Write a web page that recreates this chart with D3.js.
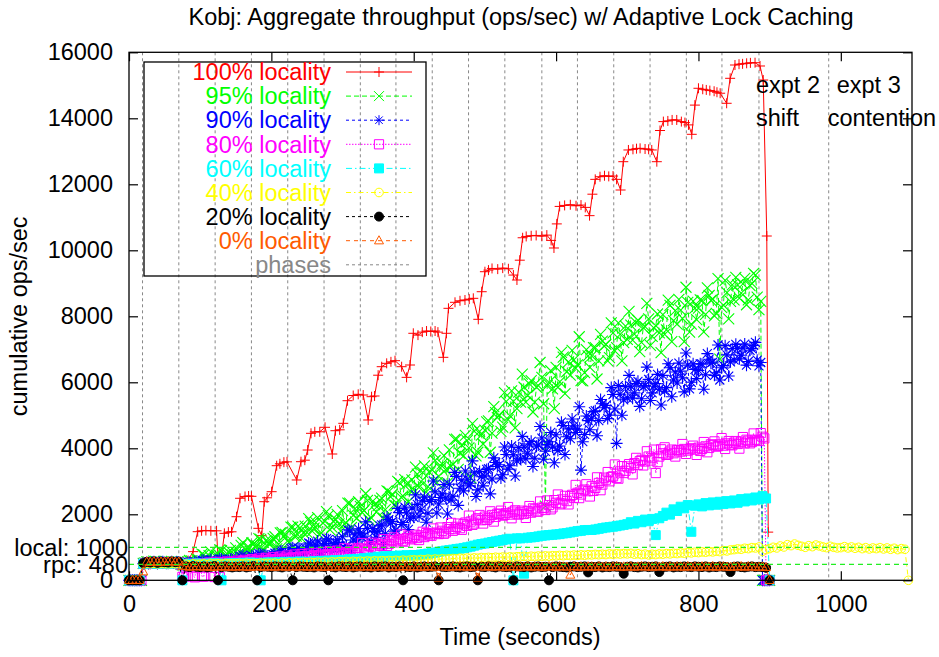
<!DOCTYPE html>
<html><head><meta charset="utf-8">
<script src="https://cdn.jsdelivr.net/npm/d3@7"></script>
<style>body{margin:0;background:#fff} text{font-family:"Liberation Sans",Arial,sans-serif;}</style>
</head><body><svg id="c" width="939" height="657"></svg>
<script>
// ---------------- data ----------------
const SAMPLE_STEP = 5;   // seconds between samples (first sample at t=0)
const HALF_OFFSET = 2.5; // second sample set of the dense series starts at t=2.5
const xTicks = [0, 200, 400, 600, 800, 1000];
const yTicks = [0, 2000, 4000, 6000, 8000, 10000, 12000, 14000, 16000];
const refLines = [{label: "rpc: 480", v: 480}, {label: "local: 1000", v: 1000}];
const phases = [19, 70, 121, 172, 223, 274, 325, 375, 426, 477, 528, 580, 630, 681, 732, 783, 833, 885, 983];
const notes = [
  {t: 885, lines: ["expt 2", "shift"], dx: [-3, -3]},
  {t: 983, lines: ["expt 3", "contention"], dx: [8, -1]}
];

// 100% locality: [time, ops/sec]
const loc100 = [[0,0],[5,0],[10,0],[15,0],[20,540],[27,560],[34,555],[41,565],[48,560],[55,570],[62,560],[69,565],[76,560],[83,600],
[90,868],[96.5,1473],[102,1500],[108,1510],[115,1500],[123,1500],[126.5,110],[134,1423],[139.6,1460],[144,1470],[151,1927],[156,2485],
[163,2540],[168,2555],[172,2545],[181.7,1575],[186.4,1352],[190,2382],[194,2500],[200.4,2685],[207.5,3473],[212,3530],[217.6,3580],[222,3590],
[235.6,3040],[241.6,3594],[247,3640],[251,3948],[255.7,4454],[261,4500],[268,4500],[275.4,4636],[285.6,3827],[290,4533],[296,4560],[301,4757],
[307,5442],[315,5600],[322,5636],[329,5615],[336,4858],[340.8,5564],[345,5585],[350,6215],[355,6473],[362,6575],[368,6620],[373.7,6655],
[383,6473],[390,6150],[394.8,6524],[399.4,7485],[406,7430],[412,7520],[418,7554],[424,7540],[430,7554],[434,7520],[441.6,6757],[446,7485],
[448.8,8242],[458,8424],[465,8470],[472,8494],[478,8520],[483.7,8545],[490.7,7909],[495.5,8745],[500,9351],[505,9400],[510,9450],[518,9430],
[525,9460],[533,9440],[540,9250],[545,9100],[549,9700],[553,10380],[558,10420],[565,10440],[572,10450],[580,10430],[587,10460],[593,10300],
[597,10070],[601,10800],[605,11330],[612,11360],[620,11380],[628,11350],[635,11370],[641,11300],[647,11050],[651,11700],[655,12150],[661.7,12230],
[668,12260],[674,12240],[680,12250],[685,12150],[690.6,11827],[694.4,12685],[701.6,13040],[708,13060],[713,13080],[718,13090],[725,13070],
[730,13060],[734.4,13040],[741.5,12685],[746,13630],[750.7,13900],[757,13920],[763,13950],[769.5,13950],[776,13900],[781,13870],[786,13800],
[790.6,13515],[795,14400],[800,14910],[806,14880],[811,14860],[816,14840],[822,14820],[826,14790],[830.5,14760],[839.6,14455],[844.5,15212],
[851.3,15615],[857,15640],[862,15650],[867.7,15667],[873,15680],[879.5,15685],[886.5,15585],[891,15160],[896,10433],[898,1460]];

// dense series: samples at t = 0, 5, 10, ... (a) and t = 2.5, 7.5, ... (b)
const loc95 = [0,0,0,0,
510,560,520,580,530,560,540,520,570,545,560,
470,540,600,520,640,
590,770,670,860,600,800,900,710,850,770,
980,760,1140,920,880,1100,1040,1240,920,1180,
1170,1320,1090,1450,1390,1160,1610,1340,1590,1440,
1450,1760,1580,1900,1440,1790,1960,1610,1850,1710,
2110,1740,2340,1970,1880,2240,2110,2420,1900,2290,
2260,2490,2140,2690,2610,2260,2950,2550,2920,2710,
2750,3220,2990,3470,2840,3360,3630,3160,3530,3350,
3950,3520,4280,3850,3770,4230,3100,4520,3880,4400,
4550,4830,4460,5080,5010,4640,5420,4990,5420,5200,
5400,5850,5600,6050,5400,5900,6150,2250,6000,5800,
6450,6010,6760,6320,6220,6680,6530,6050,6290,6800,
6800,7050,6650,7250,7150,6750,7500,7050,7450,7200,
7300,7730,7460,7880,7210,7690,7920,7390,7720,7500,
8050,7590,8330,7870,7760,8190,7230,8420,7760,8250,
8250,8480,8060,8630,8510,8090,6700,8340,8720,8450,
8500,8950,8700,9150,8500,9000,9250,8200,0,0,
0];
const loc95b = [0,0,0,0,
530,550,510,570,540,525,565,535,550,540,
500,480,560,590,540,620,
790,630,750,600,760,920,680,810,910,690,
780,1060,770,1020,1130,1010,1260,940,1200,1080,
1270,950,1440,1330,1190,1610,1330,1640,1260,1640,
1870,1490,1750,1380,1730,2080,1530,1780,2000,1490,
1710,2340,1600,2170,2380,2060,2630,1820,2400,2070,
2420,1880,2710,2530,2280,3000,2510,3050,2380,3040,
3430,2820,3270,2670,3260,3860,2960,3410,3780,2950,
3450,4270,3360,4100,4390,4010,4750,3770,4510,4130,
4800,3880,5260,4930,4510,5690,4870,5740,4620,5700,
6250,5400,5950,5100,5850,6600,5350,5900,6350,5200,
5850,6910,5660,6620,6970,6430,7380,6040,6990,6450,
7050,6100,7450,7100,6650,7800,6950,7800,6650,7700,
8150,7280,7810,6930,7660,8390,7120,7640,8070,6900,
7450,8490,7230,8170,8510,7940,8880,7520,8460,7900,
8500,7530,8860,8480,8010,9140,8270,9090,7920,8950,
9180,8550,8980,8350,8930,9300,8580,8450,0,0];
const loc90 = [0,0,0,0,
500,540,520,560,510,550,530,520,560,540,550,
480,510,540,500,530,
510,600,540,630,500,590,640,540,600,560,
680,540,760,620,590,720,670,790,590,740,
720,820,660,890,850,690,990,800,960,860,
880,1100,970,1190,860,1110,1230,980,1150,1050,
1320,1050,1500,1220,1160,1430,1340,1570,1180,1480,
1490,1680,1410,1840,1780,1520,2050,1750,2040,1880,
1910,2300,2130,2520,2030,2450,2680,2310,2620,2490,
2910,2550,3150,2790,2710,3060,2940,3260,2740,3140,
3160,3380,3070,3570,3500,3200,3810,3470,3800,3620,
3680,4040,3850,4210,3700,4100,4310,3910,4200,4040,
4410,4070,4690,4350,4290,4680,4580,3340,4420,4840,
4910,5140,4840,5350,5300,5000,5630,4150,5640,5470,
5530,5880,5680,6030,5500,5900,6090,5680,5960,5790,
6210,5840,6440,6070,5980,6340,5710,6520,6000,6390,
6360,6550,6230,6700,6610,6290,6070,6510,6830,6620,
6680,7030,6820,7160,6630,7020,7210,6500,0,0,
0];
const loc90b = [0,0,0,0,
520,510,550,530,545,560,515,540,525,555,
470,500,530,520,560,540,
610,530,580,500,580,650,530,590,630,520,
560,720,540,680,740,660,810,610,750,680,
780,600,880,810,730,970,810,980,760,980,
1130,920,1070,870,1060,1260,960,1110,1230,950,
1000,1530,910,1380,1560,1290,1770,1090,1570,1300,
1650,1090,1920,1730,1470,2180,1690,2220,1540,2190,
2590,1940,2410,1760,2390,3010,2040,2510,2900,2010,
2430,3270,2270,3030,3310,2860,3620,2540,3300,2860,
3360,2620,3710,3450,3100,4040,3370,4070,3160,4020,
4360,3680,4130,3450,4060,4660,3670,4110,4480,3560,
3930,4790,3810,4590,4890,4480,5260,4200,4980,4560,
5110,4380,5480,5230,4900,5840,5190,5900,5000,5870,
6210,5520,5960,5270,5860,6460,5450,5880,6240,5310,
5730,6560,5560,6310,6580,6140,6890,5800,6560,6110,
6560,5790,6870,6580,6210,7130,6440,7110,6190,7020,
7150,6710,7040,6520,6970,7120,6670,6600,0,0];
const loc80 = [0,0,0,0,
500,530,510,550,520,540,530,510,550,530,540,
100,470,500,120,490,
500,110,520,480,100,530,490,540,500,520,
560,520,580,540,600,560,610,570,620,590,
640,600,660,620,690,650,700,660,720,690,
740,700,760,720,780,740,800,760,820,790,
850,800,880,830,920,870,960,900,1020,980,
1100,1050,1150,1100,1200,1150,1250,1200,1280,1240,
1320,1280,1360,1310,1400,1350,1440,1400,1500,1450,
1550,1500,1620,1580,1700,1650,1780,1720,1880,1820,
1930,1880,1980,1920,2010,1960,2040,1990,2080,2020,
2060,2010,2100,2050,2150,2090,2200,2130,2280,2210,
2350,2300,2450,2400,2550,2500,2650,2600,2750,2700,
2850,2800,2950,2900,3050,3000,3150,3100,3300,3250,
3450,3400,3550,3500,3650,3600,3750,3700,3250,3750,
3850,3800,3900,3850,3950,3900,3980,3930,4000,3960,
4020,3980,4060,4010,4100,4050,4120,4080,4150,4110,
4170,4130,4200,4150,4230,4190,4260,4220,4350,0,
0];
const loc80b = [0,0,0,0,
510,540,520,545,500,535,525,545,515,530,
480,110,130,500,90,510,
120,490,540,510,560,100,530,570,520,560,
600,540,620,560,640,580,660,600,680,620,
700,630,720,650,750,670,780,690,800,720,
810,730,830,750,860,770,880,800,900,830,
970,840,960,830,980,1130,930,1040,1140,960,
1050,1250,1040,1220,1300,1210,1390,1170,1350,1270,
1380,1220,1470,1430,1360,1570,1440,1600,1410,1610,
1740,1550,1720,1530,1750,1960,1680,1840,1980,1720,
1830,2090,1780,2020,2110,1980,2220,1880,2120,1990,
2110,1890,2250,2180,2080,2390,2190,2420,2150,2430,
2600,2330,2560,2300,2590,2890,2490,2720,2910,2540,
2710,3120,2730,3110,3280,3130,3510,3080,3460,3320,
3520,3210,3710,3610,3480,3910,3630,3960,3580,3970,
4030,3820,3960,3750,3940,4130,3830,3970,4080,3800,
3920,4190,3880,4120,4210,4070,4310,3980,4220,4090,
4220,3990,4340,4260,4150,4450,4240,4460,4300,0];
const loc60 = [0,0,0,0,
500,520,510,530,500,520,510,500,520,510,520,
0,480,500,490,510,
500,490,510,500,520,510,0,500,510,520,
520,510,530,520,540,510,530,0,530,540,
540,530,550,540,560,545,560,550,570,555,
560,550,580,565,590,575,600,590,610,600,
620,610,640,625,650,640,670,660,690,680,
716,700,730,720,740,730,750,740,760,750,
766,760,780,790,810,820,840,860,880,900,
915,930,950,960,980,1000,1020,1050,1080,1100,
1116,1140,1160,1180,1200,1220,1240,1260,0,1270,
1270,200,1290,1300,1310,1330,1350,1360,1370,1380,
1390,1400,1420,1430,1450,1470,1490,1500,1520,1525,
1525,1540,1560,1580,1600,1610,1625,1640,1660,1680,
1700,1760,1720,1800,1760,1840,1790,1860,1370,1880,
1950,2050,1990,2150,2100,2230,2180,2280,1470,2260,
2300,2240,2340,2270,2360,2290,2380,2310,2400,2330,
2420,2350,2460,2390,2480,2420,2510,2450,2550,2480,
0];
const loc40 = [0,0,0,0,
500,510,505,515,500,510,505,500,510,505,510,
480,490,470,500,485,
490,500,480,510,495,505,490,510,500,505,
500,510,495,515,505,510,500,520,510,515,
515,520,505,525,515,530,520,535,525,540,
530,545,535,550,540,555,545,560,550,565,
560,570,555,575,565,580,570,585,575,590,
580,595,585,600,590,605,595,610,600,615,
620,610,630,620,640,630,645,635,650,640,
650,660,655,670,660,675,665,680,670,690,
680,695,685,700,690,705,695,710,700,715,
716,725,710,730,720,735,725,740,730,745,
740,755,745,760,750,765,755,770,760,775,
770,785,775,790,780,800,790,805,795,810,
800,815,790,805,780,795,770,790,780,800,
790,810,800,820,810,830,820,840,830,850,
840,860,850,870,860,880,870,900,890,920,
930,950,940,970,960,990,980,1010,880,930,
960,1000,980,1040,1010,1080,1050,1100,1060,1030,
1000,1050,1020,1070,1040,1010,990,1030,1000,980,
990,1020,980,1010,970,1000,960,990,950,980,
960,990,950,980,940,970,930,960,940,0];
const loc20 = [0,0,0,0,
520,560,540,570,530,560,550,540,570,550,560,
0,420,400,430,410,
400,420,390,410,430,0,400,420,410,390,
410,400,420,390,410,430,0,400,420,410,
400,420,410,390,420,410,0,400,420,410,
400,410,390,420,410,400,0,410,390,420,
410,400,420,390,410,420,400,410,390,420,
400,410,420,390,410,400,420,0,410,400,
420,390,410,420,400,410,420,0,410,400,
410,420,400,390,410,420,400,410,0,410,
400,420,410,390,420,410,400,410,0,420,
410,400,420,390,410,420,400,410,0,400,
420,410,400,390,410,420,400,410,420,240,
410,400,420,390,410,400,420,410,400,200,
410,420,400,390,410,420,400,410,420,250,
400,410,420,390,410,400,420,410,400,420,
410,400,420,390,410,400,420,410,400,250,
410,420,400,390,410,420,400,410,400,380,
0];
const loc0 = [0,0,0,0,
260,560,550,570,540,560,550,560,570,550,560,
430,420,400,410,420,
410,400,420,395,410,405,420,400,415,400,
405,420,400,410,395,415,405,420,400,410,
415,400,410,420,400,405,415,400,410,420,
400,410,405,420,395,410,400,415,405,410,
420,400,410,405,415,400,410,420,400,405,
410,420,400,415,405,410,400,420,410,400,
415,405,410,400,420,410,400,70,410,405,
400,415,405,420,410,400,415,405,70,410,
405,420,400,410,415,405,400,420,410,400,
410,405,420,400,415,410,400,405,420,410,
400,415,410,405,160,420,400,410,405,415,
410,400,420,405,415,400,410,420,400,410,
405,415,400,410,420,405,410,400,415,405,
420,400,410,405,415,410,400,420,405,410,
400,415,410,405,420,400,410,415,405,400,
410,405,420,400,415,410,405,400,410,390,
0];

// ---------------- drawing ----------------
const M = {left: 129, right: 912, top: 52.3, bottom: 580.3};
const FS = 23.5;
const svg = d3.select("#c");
const x = d3.scaleLinear().domain([0, 1100]).range([M.left, M.right]);
const y = d3.scaleLinear().domain([0, 16000]).range([M.bottom, M.top]);

const uniform = vals => vals.map((v, i) => [i * SAMPLE_STEP, v]);
const dense = (a, b) => {
  const out = [];
  a.forEach((v, i) => {
    out.push([i * SAMPLE_STEP, v]);
    if (i < b.length) out.push([i * SAMPLE_STEP + HALF_OFFSET, b[i]]);
  });
  return out;
};

const markers = {
  plus: s => `M${-s},0H${s}M0,${-s}V${s}`,
  cross: s => `M${-s},${-s}L${s},${s}M${-s},${s}L${s},${-s}`,
  star: s => `M${-s},0H${s}M0,${-s}V${s}M${-s*0.75},${-s*0.75}L${s*0.75},${s*0.75}M${-s*0.75},${s*0.75}L${s*0.75},${-s*0.75}`,
  square: s => `M${-s},${-s}H${s}V${s}H${-s}Z`,
  circle: s => `M${-s},0A${s},${s} 0 1,0 ${s},0A${s},${s} 0 1,0 ${-s},0Z`,
  triangle: s => `M0,${-s*1.1}L${s},${s*0.7}L${-s},${s*0.7}Z`
};

const series = [
  {label: "100% locality", color: "#ff0000", dash: null, mk: "plus", size: 5, sw: 1, fill: false, data: loc100},
  {label: "95% locality", color: "#00ff00", dash: "5,3", mk: "cross", size: 5.5, sw: 1.1, fill: false, data: dense(loc95, loc95b)},
  {label: "90% locality", color: "#0000ff", dash: "3,3", mk: "star", size: 6, sw: 1.1, fill: false, data: dense(loc90, loc90b)},
  {label: "80% locality", color: "#ff00ff", dash: "1.5,1.5", mk: "square", size: 4.6, sw: 1, fill: false, data: dense(loc80, loc80b)},
  {label: "60% locality", color: "#00ffff", dash: "6,3,1.5,3", mk: "square", size: 4.5, sw: 1, fill: true, data: uniform(loc60)},
  {label: "40% locality", color: "#ffff00", dash: "5,3,1.5,3", mk: "circle", size: 4.3, sw: 1, fill: false, data: uniform(loc40)},
  {label: "20% locality", color: "#000000", dash: "3,3", mk: "circle", size: 4.5, sw: 1, fill: true, data: uniform(loc20)},
  {label: "0% locality", color: "#ff5a00", dash: "4,4", mk: "triangle", size: 4.5, sw: 1, fill: false, data: uniform(loc0)}
];

// phases (vertical dashed gray lines)
svg.append("g").selectAll("line").data(phases).join("line")
  .attr("x1", d => x(d)).attr("x2", d => x(d))
  .attr("y1", M.top).attr("y2", M.bottom)
  .attr("stroke", "#888").attr("stroke-width", 1).attr("stroke-dasharray", "3,3");

// series
const line = d3.line().x(d => x(d[0])).y(d => y(d[1]));
series.forEach(s => {
  const g = svg.append("g");
  g.append("path").attr("d", line(s.data)).attr("fill", "none")
    .attr("stroke", s.color).attr("stroke-width", 1)
    .attr("stroke-dasharray", s.dash);
  g.selectAll("path.m").data(s.data).join("path").attr("class", "m")
    .attr("transform", d => `translate(${x(d[0])},${y(d[1])})`)
    .attr("d", markers[s.mk](s.size))
    .attr("fill", s.fill ? s.color : "none")
    .attr("stroke", s.color).attr("stroke-width", s.sw);
});

// reference lines
svg.append("g").selectAll("line").data(refLines).join("line")
  .attr("x1", M.left).attr("x2", M.right)
  .attr("y1", d => y(d.v)).attr("y2", d => y(d.v))
  .attr("stroke", "#22ee22").attr("stroke-width", 1.3).attr("stroke-dasharray", "5,4");

// axes
const axG = (sel) => { sel.select(".domain").remove(); sel.selectAll("line").attr("stroke", "#000").attr("stroke-width", 1.2);
  sel.selectAll("text").attr("font-size", FS).attr("fill", "#000").attr("font-family", "Liberation Sans, Arial, sans-serif"); };
svg.append("g").attr("transform", `translate(0,${M.bottom})`)
  .call(d3.axisBottom(x).tickValues(xTicks).tickSizeInner(-9).tickSizeOuter(0).tickPadding(15).tickFormat(d3.format("d"))).call(axG);
svg.append("g").attr("transform", `translate(0,${M.top})`)
  .call(d3.axisTop(x).tickValues(xTicks).tickSizeInner(-9).tickSizeOuter(0).tickFormat("")).call(axG);
svg.append("g").attr("transform", `translate(${M.left},0)`)
  .call(d3.axisLeft(y).tickValues(yTicks).tickSizeInner(-9).tickSizeOuter(0).tickPadding(16).tickFormat(d3.format("d"))).call(axG);
svg.append("g").attr("transform", `translate(${M.right},0)`)
  .call(d3.axisRight(y).tickValues(yTicks).tickSizeInner(-9).tickSizeOuter(0).tickFormat("")).call(axG);

// custom reference tick labels
svg.append("g").selectAll("text").data(refLines).join("text")
  .attr("x", M.left - 1).attr("y", d => y(d.v)).attr("dy", "0.35em")
  .attr("text-anchor", "end").attr("font-size", FS).text(d => d.label);

// border
svg.append("rect").attr("x", M.left).attr("y", M.top)
  .attr("width", M.right - M.left).attr("height", M.bottom - M.top)
  .attr("fill", "none").attr("stroke", "#000").attr("stroke-width", 1.3);

// titles
svg.append("text").attr("x", 521).attr("y", 25).attr("text-anchor", "middle").attr("font-size", FS)
  .text("Kobj: Aggregate throughput (ops/sec) w/ Adaptive Lock Caching");
svg.append("text").attr("x", 520).attr("y", 645).attr("text-anchor", "middle").attr("font-size", FS)
  .text("Time (seconds)");
svg.append("text").attr("transform", `translate(27,${(M.top + M.bottom) / 2}) rotate(-90)`)
  .attr("text-anchor", "middle").attr("font-size", FS).text("cumulative ops/sec");

// phase notes
notes.forEach(n => {
  n.lines.forEach((l, i) => {
    svg.append("text").attr("x", x(n.t) + n.dx[i]).attr("y", 93 + i * 33).attr("font-size", FS).text(l);
  });
});

// legend
const LG = {x0: 144, y0: 62, x1: 426, y1: 276, textX: 331, lineX0: 346, lineX1: 412, row0: 72, dy: 24.1};
const leg = svg.append("g");
leg.append("rect").attr("x", LG.x0).attr("y", LG.y0).attr("width", LG.x1 - LG.x0).attr("height", LG.y1 - LG.y0)
  .attr("fill", "none").attr("stroke", "#000").attr("stroke-width", 1.3);
const legItems = series.concat([{label: "phases", color: "#888", dash: "3,3", mk: null, textColor: "#888"}]);
legItems.forEach((s, i) => {
  const cy = LG.row0 + i * LG.dy;
  leg.append("text").attr("x", LG.textX).attr("y", cy).attr("dy", "0.35em").attr("text-anchor", "end")
    .attr("font-size", FS).attr("fill", s.textColor || s.color).text(s.label);
  leg.append("line").attr("x1", LG.lineX0).attr("x2", LG.lineX1).attr("y1", cy).attr("y2", cy)
    .attr("stroke", s.color).attr("stroke-width", 1).attr("stroke-dasharray", s.dash);
  if (s.mk) {
    leg.append("path").attr("transform", `translate(${(LG.lineX0 + LG.lineX1) / 2},${cy})`)
      .attr("d", markers[s.mk](Math.min(s.size, 5))).attr("fill", s.fill ? s.color : "none")
      .attr("stroke", s.color).attr("stroke-width", 1);
  }
});
</script></body></html>
